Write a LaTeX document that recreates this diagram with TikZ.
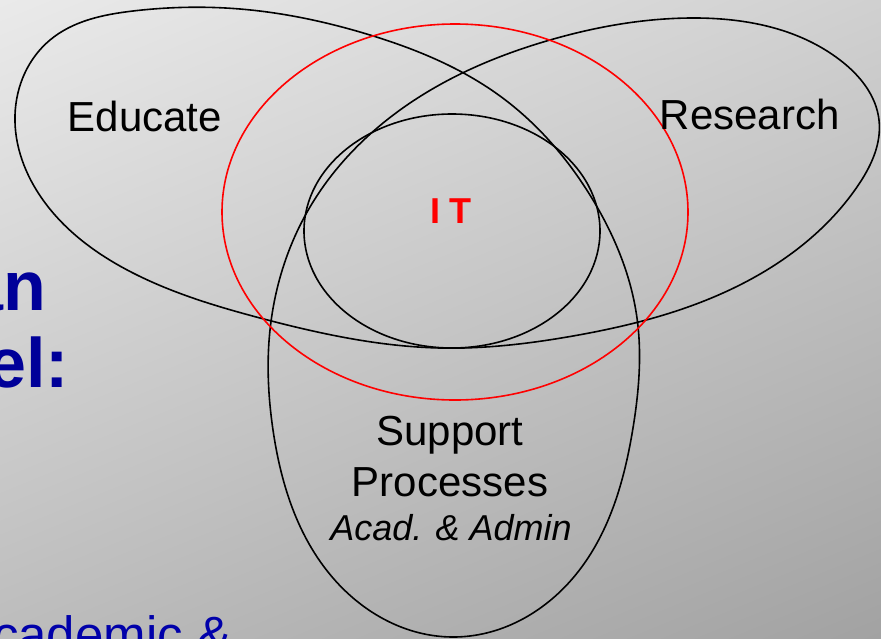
\documentclass[tikz,border=0pt]{standalone}
\usepackage{fontspec}
\setmainfont{Liberation Sans}
\usetikzlibrary{shadings,hobby}
\definecolor{bgA}{RGB}{234,234,234}
\definecolor{bgB}{RGB}{208,208,208}
\definecolor{bgC}{RGB}{188,188,188}
\definecolor{bgD}{RGB}{162,162,162}
\definecolor{navy}{RGB}{0,0,153}
\definecolor{blu}{RGB}{0,0,170}
\begin{document}
\begin{tikzpicture}[x=1pt,y=-1pt,line width=1.6pt,
  lbl/.style={inner sep=0pt,font=\fontsize{42}{48}\selectfont},
  side/.style={inner sep=0pt,text=navy,font=\fontsize{70}{80}\selectfont\bfseries}]
\useasboundingbox (0,0) rectangle (881,638);
\clip (0,0) rectangle (881,638);
\shade[upper left=bgA, upper right=bgB, lower left=bgC, lower right=bgD] (0,0) rectangle (881,638);
% side texts
\node[side,anchor=base east] (an) at (47,310) {an};
\node[side,anchor=base east] (el) at (70,387) {el:};
\node[inner sep=0pt,text=blu,font=\fontsize{51}{60}\selectfont,anchor=base east] (acad) at (232,652) {cademic \&};
% trefoil
\draw plot[closed hobby] coordinates {
(15,115) (50,40) (133,11) (240,9) (370,35) (500,96) (593,200) (637,318)
(633,428) (573,578) (453,637) (333,578) (273,430) (270,330) (310,207)
(400,110) (550,40) (690,18) (840,60) (879,120) (857,187) (723,293)
(573,336) (440,348) (260,318) (133,273) (43,200)};
% inner ellipse
\draw (452,231) ellipse [x radius=148, y radius=117];
% red ellipse
\draw[red] (455,212) ellipse [x radius=233, y radius=188];
% labels
\node[lbl,anchor=base west] (edu) at (67,131) {Educate};
\node[lbl,anchor=base west] (res) at (659,129) {Research};
\node[inner sep=0pt,text=red,font=\fontsize{36}{40}\selectfont\bfseries,anchor=base] (it) at (451,223) {I T};
\node[lbl,anchor=base] (sup) at (450,445) {Support};
\node[lbl,anchor=base] (proc) at (450,496) {Processes};
\node[inner sep=0pt,anchor=base,font=\fontsize{36}{40}\selectfont\itshape] (aa) at (451,540) {Acad. \& Admin};
\end{tikzpicture}
\end{document}
